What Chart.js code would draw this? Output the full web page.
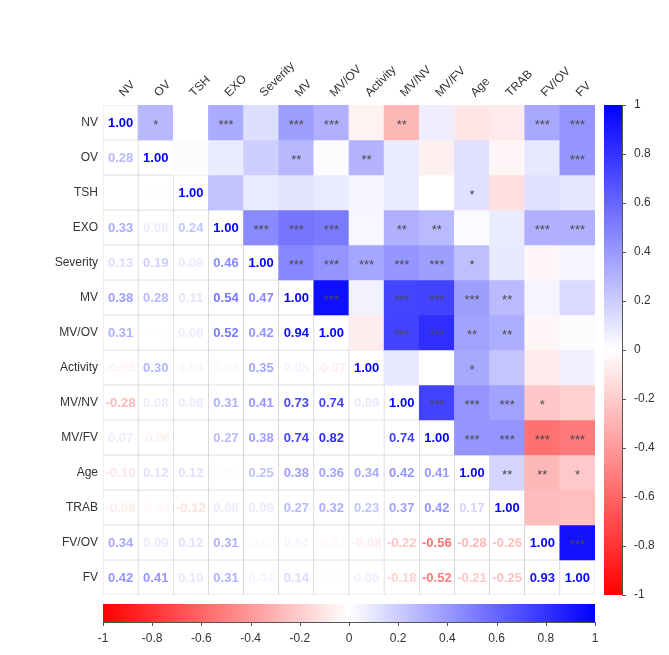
<!DOCTYPE html>
<html>
<head>
<meta charset="utf-8">
<script src="https://cdn.jsdelivr.net/npm/chart.js@4.4.1/dist/chart.umd.min.js"></script>
<style>
  body { margin: 0; background: #ffffff; }
  #wrap { width: 669px; height: 655px; }
</style>
</head>
<body>
<div id="wrap"><canvas id="corr-chart" width="669" height="655"></canvas></div>
<script>
const variables = ['NV', 'OV', 'TSH', 'EXO', 'Severity', 'MV', 'MV/OV', 'Activity', 'MV/NV', 'MV/FV', 'Age', 'TRAB', 'FV/OV', 'FV'];

// lower triangle, row by row (columns before the diagonal)
const lowerValues = [
    [],
    [0.28],
    [0.00, 0.01],
    [0.33, 0.08, 0.24],
    [0.13, 0.19, 0.08, 0.46],
    [0.38, 0.28, 0.11, 0.54, 0.47],
    [0.31, 0.01, 0.08, 0.52, 0.42, 0.94],
    [-0.05, 0.30, 0.04, 0.03, 0.35, 0.05, -0.07],
    [-0.28, 0.08, 0.08, 0.31, 0.41, 0.73, 0.74, 0.09],
    [0.07, -0.06, 0.00, 0.27, 0.38, 0.74, 0.82, 0.00, 0.74],
    [-0.10, 0.12, 0.12, 0.02, 0.25, 0.38, 0.36, 0.34, 0.42, 0.41],
    [-0.08, -0.03, -0.12, 0.08, 0.09, 0.27, 0.32, 0.23, 0.37, 0.42, 0.17],
    [0.34, 0.09, 0.12, 0.31, -0.03, 0.04, -0.03, -0.08, -0.22, -0.56, -0.28, -0.26],
    [0.42, 0.41, 0.10, 0.31, 0.04, 0.14, 0.01, 0.06, -0.18, -0.52, -0.21, -0.25, 0.93]
];

// significance marks, upper triangle, row by row (columns after the diagonal)
const upperStars = [
    ['*', '', '***', '', '***', '***', '', '**', '', '', '', '***', '***'],
    ['', '', '', '**', '', '**', '', '', '', '', '', '***'],
    ['', '', '', '', '', '', '', '*', '', '', ''],
    ['***', '***', '***', '', '**', '**', '', '', '***', '***'],
    ['***', '***', '***', '***', '***', '*', '', '', ''],
    ['***', '', '***', '***', '***', '**', '', ''],
    ['', '***', '***', '**', '**', '', ''],
    ['', '', '*', '', '', ''],
    ['***', '***', '***', '*', ''],
    ['***', '***', '***', '***'],
    ['**', '**', '*'],
    ['', ''],
    ['***'],
    []
];

const legendTicks = [-1, -0.8, -0.6, -0.4, -0.2, 0, 0.2, 0.4, 0.6, 0.8, 1];

function corrAt(row, col) {
    if (row === col) return 1;
    return row > col ? lowerValues[row][col] : lowerValues[col][row];
}

function starsAt(row, col) {
    return upperStars[row][col - row - 1] || '';
}

function corrColor(r) {
    const t = Math.min(1, Math.abs(r));
    const c = Math.round(255 * (1 - t));
    return r >= 0 ? `rgb(${c},${c},255)` : `rgb(255,${c},${c})`;
}

const labelFont = { family: 'Liberation Sans, Arial, sans-serif', size: 12 };

const datasets = variables.map((name, row) => ({
    label: name,
    data: variables.map(() => [row - 0.5, row + 0.5]),
    backgroundColor: variables.map((_, col) => col > row ? corrColor(corrAt(row, col)) : '#ffffff'),
    borderColor: variables.map((_, col) => col > row ? 'rgba(0,0,0,0)' : '#c8c8c8'),
    borderWidth: variables.map((_, col) => col > row ? 0 : 0.6),
    borderSkipped: false,
    barPercentage: 1,
    categoryPercentage: 1,
    grouped: false
}));

const cellText = {
    id: 'cellText',
    afterDatasetsDraw(chart) {
        const ctx = chart.ctx;
        ctx.save();
        ctx.textAlign = 'center';
        ctx.textBaseline = 'middle';
        chart.data.datasets.forEach((ds, row) => {
            chart.getDatasetMeta(row).data.forEach((bar, col) => {
                const p = bar.getProps(['x', 'y', 'base'], true);
                const cy = (p.y + p.base) / 2;
                if (col <= row) {
                    const r = corrAt(row, col);
                    ctx.font = 'bold 13px Liberation Sans, Arial, sans-serif';
                    ctx.fillStyle = corrColor(r);
                    ctx.fillText(r.toFixed(2), p.x, cy + 1);
                } else {
                    const s = starsAt(row, col);
                    if (s) {
                        ctx.font = '13px Liberation Sans, Arial, sans-serif';
                        ctx.fillStyle = '#4a4a4a';
                        ctx.fillText(s, p.x, cy + 3);
                    }
                }
            });
        });
        ctx.restore();
    }
};

const colorBars = {
    id: 'colorBars',
    afterDraw(chart) {
        const { ctx, chartArea, scales } = chart;
        const side = scales.legendY;
        const under = scales.legendX;
        ctx.save();

        // right bar
        const x0 = chartArea.right + 9, bw = 18;
        const yTop = side.getPixelForValue(1), yBot = side.getPixelForValue(-1);
        let g = ctx.createLinearGradient(0, yTop, 0, yBot);
        g.addColorStop(0, '#0000ff');
        g.addColorStop(0.5, '#ffffff');
        g.addColorStop(1, '#ff0000');
        ctx.fillStyle = g;
        ctx.fillRect(x0, yTop, bw, yBot - yTop);
        ctx.strokeStyle = '#555555';
        ctx.lineWidth = 1;
        ctx.beginPath();
        ctx.moveTo(x0 + bw + 0.5, yTop);
        ctx.lineTo(x0 + bw + 0.5, yBot);
        legendTicks.forEach(v => {
            const y = Math.round(side.getPixelForValue(v)) + 0.5;
            ctx.moveTo(x0 + bw, y);
            ctx.lineTo(x0 + bw + 4, y);
        });
        ctx.stroke();

        // bottom bar
        const y0 = chartArea.bottom + 9, bh = 18;
        const xl = under.getPixelForValue(-1), xr = under.getPixelForValue(1);
        g = ctx.createLinearGradient(xl, 0, xr, 0);
        g.addColorStop(0, '#ff0000');
        g.addColorStop(0.5, '#ffffff');
        g.addColorStop(1, '#0000ff');
        ctx.fillStyle = g;
        ctx.fillRect(xl, y0, xr - xl, bh);
        ctx.beginPath();
        ctx.moveTo(xl, y0 + bh + 0.5);
        ctx.lineTo(xr, y0 + bh + 0.5);
        legendTicks.forEach(v => {
            const x = Math.round(under.getPixelForValue(v)) + 0.5;
            ctx.moveTo(x, y0 + bh);
            ctx.lineTo(x, y0 + bh + 4);
        });
        ctx.stroke();
        ctx.restore();
    }
};

const fmtTick = v => String(Math.round(v * 10) / 10);

new Chart(document.getElementById('corr-chart'), {
    type: 'bar',
    data: { labels: variables, datasets },
    plugins: [cellText, colorBars],
    options: {
        responsive: false,
        animation: false,
        events: [],
        layout: { padding: 0 },
        plugins: { legend: { display: false }, tooltip: { enabled: false } },
        scales: {
            x: {
                type: 'category',
                position: 'top',
                grid: { display: false, drawTicks: false },
                border: { display: false },
                ticks: { color: '#333333', font: labelFont, minRotation: 45, maxRotation: 45, padding: 5, labelOffset: 11, autoSkip: false },
                afterFit: s => { s.height = 105; }
            },
            y: {
                type: 'linear',
                reverse: true,
                min: -0.5,
                max: 13.5,
                grid: { display: false, drawTicks: false },
                border: { display: false },
                afterBuildTicks: s => { s.ticks = variables.map((_, i) => ({ value: i })); },
                ticks: { color: '#333333', font: labelFont, padding: 5, callback: v => variables[v] },
                afterFit: s => { s.width = 103; }
            },
            legendY: {
                type: 'linear',
                position: 'right',
                min: -1,
                max: 1,
                offset: false,
                grid: { display: false, drawTicks: false },
                border: { display: false },
                afterBuildTicks: s => { s.ticks = legendTicks.map(v => ({ value: v })); },
                ticks: { color: '#333333', font: labelFont, padding: 39, callback: fmtTick },
                afterFit: s => { s.width = 74; }
            },
            legendX: {
                type: 'linear',
                position: 'bottom',
                min: -1,
                max: 1,
                offset: false,
                grid: { display: false, drawTicks: false, offset: false },
                border: { display: false },
                afterBuildTicks: s => { s.ticks = legendTicks.map(v => ({ value: v })); },
                ticks: { color: '#333333', font: labelFont, padding: 36, callback: fmtTick, maxRotation: 0, autoSkip: false },
                afterFit: s => { s.height = 60; }
            }
        }
    }
});
</script>
</body>
</html>
